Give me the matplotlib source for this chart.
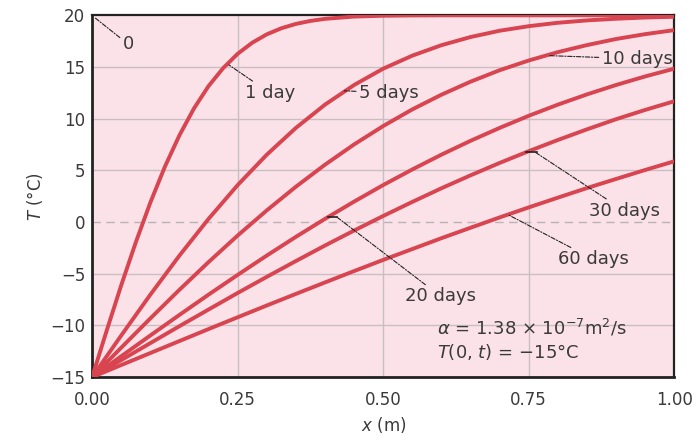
import matplotlib
matplotlib.use("Agg")
import matplotlib.pyplot as plt

# ---- data ----
x_1day = [0.0, 0.025, 0.05, 0.075, 0.1, 0.125, 0.15, 0.175, 0.2, 0.225, 0.25, 0.275,
          0.3, 0.325, 0.35, 0.375, 0.4, 0.45, 0.5, 0.55, 0.6, 0.65, 0.7, 0.75, 0.8,
          0.85, 0.9, 0.95, 1.0]
T_1day = [-15, -10.50, -6.11, -1.96, 1.89, 5.36, 8.40, 11.00, 13.16, 14.89, 16.28, 17.35,
          18.16, 18.75, 19.17, 19.46, 19.66, 19.88, 19.96, 19.99, 20, 20, 20, 20, 20,
          20, 20, 20, 20]

x_pts = [0.0, 0.05, 0.1, 0.15, 0.2, 0.25, 0.3, 0.35, 0.4, 0.45, 0.5, 0.55, 0.6, 0.65,
         0.7, 0.75, 0.8, 0.85, 0.9, 0.95, 1.0]
T_5day = [-15, -10.97, -7.02, -3.24, 0.31, 3.58, 6.52, 9.11, 11.36, 13.26, 14.84, 16.10,
          17.11, 17.90, 18.51, 18.95, 19.28, 19.51, 19.67, 19.79, 19.86]
T_10day = [-15, -12.15, -9.32, -6.55, -3.87, -1.30, 1.13, 3.42, 5.55, 7.51, 9.29, 10.90,
           12.32, 13.58, 14.69, 15.63, 16.44, 17.12, 17.71, 18.18, 18.57]
T_20day = [-15, -12.98, -10.97, -8.98, -7.02, -5.11, -3.24, -1.43, 0.31, 1.98, 3.58, 5.09,
           6.52, 7.86, 9.11, 10.28, 11.36, 12.35, 13.26, 14.09, 14.84]
T_30day = [-15, -13.35, -11.71, -10.07, -8.46, -6.86, -5.30, -3.77, -2.27, -0.82, 0.59, 1.95,
           3.27, 4.52, 5.72, 6.86, 7.94, 8.97, 9.95, 10.85, 11.69]
T_60day = [-15, -13.83, -12.67, -11.51, -10.35, -9.21, -8.07, -6.95, -5.84, -4.74, -3.66,
           -2.61, -1.56, -0.55, 0.45, 1.42, 2.36, 3.29, 4.17, 5.04, 5.88]

x_ticks = [0.00, 0.25, 0.50, 0.75, 1.00]
x_ticklabels = ["0.00", "0.25", "0.50", "0.75", "1.00"]
y_ticks = [-15, -10, -5, 0, 5, 10, 15, 20]
y_ticklabels = ["\u221215", "\u221210", "\u22125", "0", "5", "10", "15", "20"]

# ---- style ----
curve_color = "#d8444f"
bg_color = "#fbe2e8"
grid_color = "#c9bfc3"
text_color = "#3a3a3a"
lead = dict(arrowstyle="-", color="#222222", lw=0.8, linestyle=(0, (4, 1.5, 1, 1.5)),
            shrinkA=0, shrinkB=0)

fig = plt.figure(figsize=(6.98, 4.38), dpi=100)
ax = fig.add_axes([0.132, 0.139, 0.834, 0.826])
ax.set_facecolor(bg_color)

for xx, yy in [(x_1day, T_1day), (x_pts, T_5day), (x_pts, T_10day), (x_pts, T_20day),
               (x_pts, T_30day), (x_pts, T_60day)]:
    ax.plot(xx, yy, color=curve_color, lw=2.8, solid_capstyle="round", zorder=3)

ax.set_xlim(0, 1)
ax.set_ylim(-15, 20)
ax.set_xticks(x_ticks)
ax.set_xticklabels(x_ticklabels)
ax.set_yticks(y_ticks)
ax.set_yticklabels(y_ticklabels)
ax.tick_params(length=0, labelsize=12, labelcolor=text_color)
ax.tick_params(axis="x", pad=10)
ax.tick_params(axis="y", pad=5)

for v in x_ticks[1:-1]:
    ax.axvline(v, color=grid_color, lw=1.0, zorder=1)
for v in y_ticks[1:-1]:
    if v == 0:
        ax.axhline(v, color="#b9b3b8", lw=1.0, ls=(0, (6, 4)), zorder=1)
    else:
        ax.axhline(v, color=grid_color, lw=1.0, zorder=1)

for side, sp in ax.spines.items():
    sp.set_color("#222222")
    sp.set_linewidth(2.0 if side in ("left", "bottom") else 1.6)

ax.set_xlabel("$x$ (m)", fontsize=12, color=text_color, labelpad=4)
ax.set_ylabel("$T$ (\u00b0C)", fontsize=12, color=text_color, labelpad=4)

# ---- labels with leader lines ----
fs = 13
ax.annotate("0", xy=(0.004, 19.8), xytext=(0.062, 17.2), fontsize=fs, color=text_color,
            ha="center", va="center", arrowprops=lead)
ax.annotate("1 day", xy=(0.235, 15.2), xytext=(0.262, 12.5), fontsize=fs, color=text_color,
            ha="left", va="center", arrowprops=lead)
ax.annotate("5 days", xy=(0.433, 12.7), xytext=(0.458, 12.5), fontsize=fs, color=text_color,
            ha="left", va="center", arrowprops=lead)
ax.annotate("10 days", xy=(0.785, 16.1), xytext=(0.875, 15.8), fontsize=fs, color=text_color,
            ha="left", va="center", arrowprops=lead)
ax.annotate("30 days", xy=(0.76, 6.8), xytext=(0.853, 1.1), fontsize=fs, color=text_color,
            ha="left", va="center", arrowprops=lead)
ax.plot([0.745, 0.765], [6.75, 6.75], color="#222222", lw=1.2, zorder=4)
ax.annotate("60 days", xy=(0.715, 0.7), xytext=(0.80, -3.6), fontsize=fs, color=text_color,
            ha="left", va="center", arrowprops=lead)
ax.annotate("20 days", xy=(0.42, 0.5), xytext=(0.538, -7.2), fontsize=fs, color=text_color,
            ha="left", va="center", arrowprops=lead)
ax.plot([0.405, 0.42], [0.5, 0.5], color="#222222", lw=1.2, zorder=4)

ax.text(0.592, -10.2, r"$\alpha$ = 1.38 $\times$ 10$^{-7}$m$^2$/s", fontsize=13,
        color=text_color, ha="left", va="center")
ax.text(0.592, -12.6, r"$T$(0, $t$) = $-$15$\degree$C", fontsize=13,
        color=text_color, ha="left", va="center")

fig.savefig("out.png", dpi=100, facecolor="white")
